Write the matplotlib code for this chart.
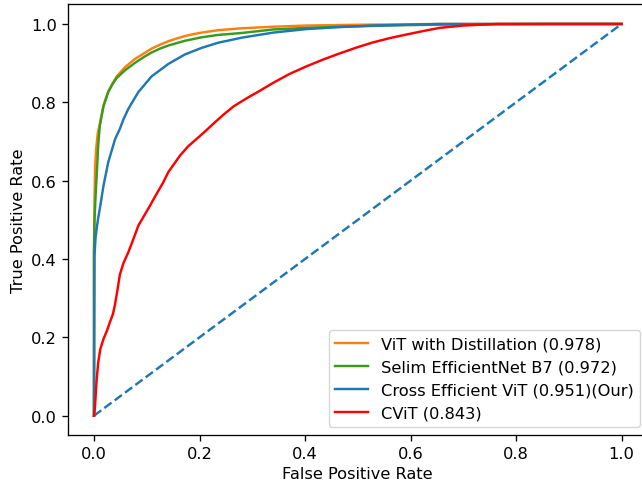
import matplotlib
matplotlib.use("Agg")
import matplotlib.pyplot as plt

# ROC points
fpr_vit = [0, 0, 0.001, 0.002, 0.004, 0.007, 0.011, 0.018, 0.027, 0.035, 0.043, 0.059,
           0.078, 0.095, 0.109, 0.125, 0.141, 0.157, 0.172, 0.188, 0.204, 0.235, 0.28,
           0.34, 0.403, 0.5, 0.655, 0.8, 1.0]
tpr_vit = [0, 0.40, 0.55, 0.63, 0.68, 0.72, 0.745, 0.792, 0.828, 0.848, 0.866, 0.89,
           0.911, 0.925, 0.937, 0.947, 0.956, 0.963, 0.969, 0.974, 0.978, 0.984, 0.989,
           0.993, 0.996, 0.998, 1.0, 1.0, 1.0]

fpr_selim = [0, 0, 0.001, 0.003, 0.005, 0.008, 0.011, 0.018, 0.027, 0.035, 0.043, 0.059,
             0.078, 0.095, 0.109, 0.125, 0.141, 0.172, 0.204, 0.235, 0.28, 0.34, 0.403,
             0.466, 0.53, 0.592, 0.7, 0.85, 1.0]
tpr_selim = [0, 0.42, 0.5, 0.56, 0.61, 0.69, 0.74, 0.79, 0.826, 0.846, 0.862, 0.882,
             0.901, 0.916, 0.927, 0.937, 0.945, 0.957, 0.966, 0.972, 0.977, 0.986, 0.99,
             0.993, 0.995, 0.997, 0.999, 1.0, 1.0]

fpr_cross = [0, 0.001, 0.003, 0.005, 0.008, 0.011, 0.018, 0.027, 0.04, 0.049, 0.056,
             0.065, 0.084, 0.109, 0.141, 0.172, 0.204, 0.235, 0.28, 0.34, 0.403, 0.466,
             0.529, 0.655, 0.8, 1.0]
tpr_cross = [0, 0.41, 0.455, 0.477, 0.505, 0.528, 0.587, 0.647, 0.706, 0.732, 0.757,
             0.783, 0.826, 0.866, 0.898, 0.922, 0.939, 0.952, 0.965, 0.978, 0.987, 0.992,
             0.996, 1.0, 1.0, 1.0]

fpr_cvit = [0, 0.001, 0.002, 0.005, 0.008, 0.012, 0.018, 0.024, 0.03, 0.036, 0.04, 0.045,
            0.049, 0.056, 0.065, 0.075, 0.084, 0.097, 0.107, 0.116, 0.131, 0.141, 0.163,
            0.178, 0.194, 0.21, 0.226, 0.245, 0.265, 0.289, 0.315, 0.34, 0.37, 0.403,
            0.434, 0.466, 0.498, 0.529, 0.561, 0.592, 0.624, 0.655, 0.7, 0.763, 0.85, 1.0]
tpr_cvit = [0, 0.01, 0.026, 0.09, 0.136, 0.17, 0.196, 0.215, 0.238, 0.26, 0.285, 0.325,
            0.36, 0.39, 0.417, 0.452, 0.485, 0.515, 0.538, 0.56, 0.595, 0.622, 0.664,
            0.687, 0.706, 0.725, 0.745, 0.768, 0.79, 0.81, 0.83, 0.85, 0.872, 0.892,
            0.909, 0.925, 0.94, 0.953, 0.964, 0.973, 0.982, 0.99, 0.996, 1.0, 1.0, 1.0]

labels = ['ViT with Distillation (0.978)',
          'Selim EfficientNet B7 (0.972)',
          'Cross Efficient ViT (0.951)(Our)',
          'CViT (0.843)']

fs = 11.7
plt.rcParams['font.size'] = fs

fig = plt.figure(figsize=(6.42, 4.85), dpi=100)
ax = fig.add_axes([0.1053, 0.1004, 0.904, 0.8885])

lw = 1.75
ax.plot([0, 1], [0, 1], linestyle='--', color='#1f77b4', lw=lw)
ax.plot(fpr_vit, tpr_vit, color='#ff7f0e', lw=lw, label=labels[0])
ax.plot(fpr_selim, tpr_selim, color='#3a9a1e', lw=lw, label=labels[1])
ax.plot(fpr_cross, tpr_cross, color='#1f77b4', lw=lw, label=labels[2])
ax.plot(fpr_cvit, tpr_cvit, color='red', lw=lw, label=labels[3])

ax.set_xlim(-0.05, 1.05)
ax.set_ylim(-0.05, 1.05)
ax.set_xlabel('False Positive Rate', fontsize=fs)
ax.set_ylabel('True Positive Rate', fontsize=fs)
ax.tick_params(labelsize=fs, length=4.1, width=0.95)
for s in ax.spines.values():
    s.set_linewidth(0.95)
ax.legend(loc='lower right', fontsize=fs)

fig.savefig('out.png', dpi=100)
